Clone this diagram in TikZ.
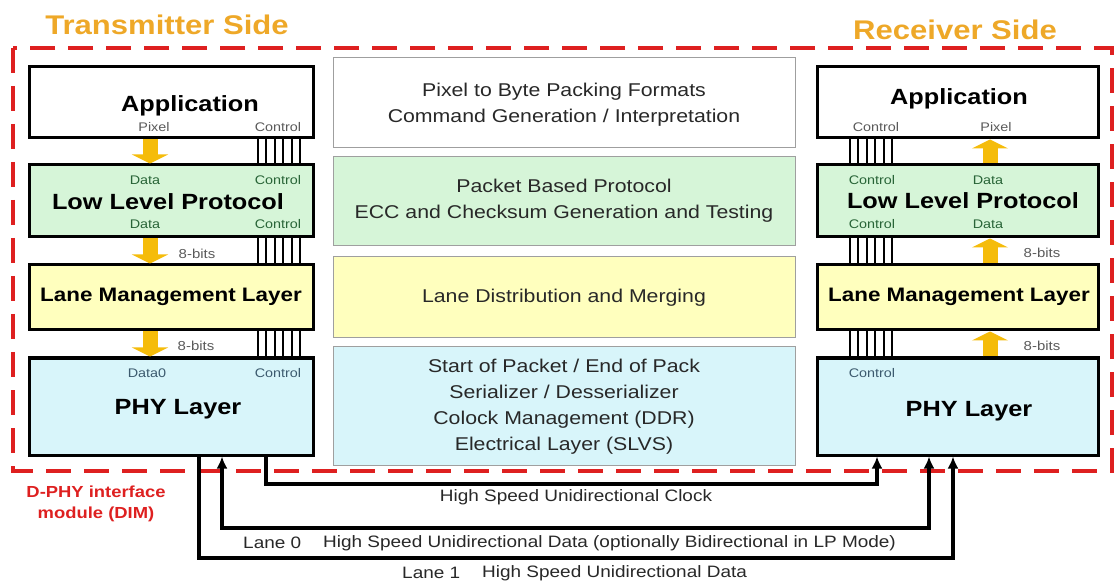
\documentclass[tikz,border=0pt]{standalone}
\usepackage{fontspec}
\setmainfont{Liberation Sans}[FakeStretch=1.15]
\usetikzlibrary{arrows.meta,calc}
\definecolor{ttlorange}{RGB}{238,168,40}
\definecolor{dimred}{RGB}{222,32,32}
\definecolor{llpgreen}{RGB}{214,245,216}
\definecolor{lmtyellow}{RGB}{255,255,190}
\definecolor{phycyan}{RGB}{216,245,250}
\definecolor{gold}{RGB}{245,188,10}
\definecolor{lblgray}{RGB}{90,90,90}
\definecolor{lblgreen}{RGB}{40,100,55}
\definecolor{lblblue}{RGB}{60,90,110}
\definecolor{txtdark}{RGB}{40,40,40}
\begin{document}
\begin{tikzpicture}[x=1pt,y=-1pt,
  sidebox/.style={draw=black, line width=3pt, inner sep=0pt},
  leftbox/.style={sidebox, minimum width=284pt},
  rightbox/.style={sidebox, minimum width=281pt},
  centerbox/.style={draw=gray!75, line width=1pt, minimum width=462pt, inner sep=0pt},
  centertext/.style={align=center, text=txtdark, inner sep=0pt, font=\fontsize{18.5}{26}\selectfont},
  boxtitle/.style={inner sep=0pt, font=\fontsize{22}{26}\selectfont\bfseries},
  sidetitle/.style={inner sep=0pt, text=ttlorange, font=\fontsize{27}{32}\selectfont\bfseries},
  lbl/.style={inner sep=0pt, font=\fontsize{12.5}{14}\selectfont},
  bits/.style={inner sep=0pt, text=lblgray, font=\fontsize{13}{15}\selectfont},
  yarrow/.style={draw=gold, line width=15pt, -{Triangle[width=36pt,length=9pt]}},
  bundle/.style={draw=black, line width=2pt},
  wire/.style={draw=black, line width=3.5pt},
  wirearrow/.style={-{Latex[length=12pt,width=11pt]}},
  bottomtext/.style={inner sep=0pt, text=txtdark, font=\fontsize{16.5}{20}\selectfont},
  reddash/.style={draw=dimred, line width=4pt, dash pattern=on 25pt off 13pt}
]
\useasboundingbox (0,0) rectangle (1114,585);

% titles
\node[sidetitle] (ttx) at (167,25) {Transmitter Side};
\node[sidetitle] (trx) at (955,30) {Receiver Side};

% DIM boundary
\draw[reddash] (13,48) rectangle (1112,471);
\node[inner sep=0pt, text=dimred, align=center, font=\fontsize{16}{21}\selectfont\bfseries] (dimlbl) at (96,504) {D-PHY interface\\module (DIM)};

% left column
\node[leftbox, fill=white, minimum height=71pt] (appL) at (171,102.5) {};
\node[leftbox, fill=llpgreen, minimum height=72pt] (llpL) at (171,201) {};
\node[leftbox, fill=lmtyellow, minimum height=65pt] (lmtL) at (171,297.5) {};
\node[leftbox, fill=phycyan, minimum height=97pt] (phyL) at (171,406.5) {};

% right column
\node[rightbox, fill=white, minimum height=71pt] (appR) at (957.5,102.5) {};
\node[rightbox, fill=llpgreen, minimum height=72pt] (llpR) at (957.5,201) {};
\node[rightbox, fill=lmtyellow, minimum height=65pt] (lmtR) at (957.5,297.5) {};
\node[rightbox, fill=phycyan, minimum height=97pt] (phyR) at (957.5,406.5) {};

% center column
\node[centerbox, fill=white, minimum height=90pt] (c1) at (564,103) {};
\node[centerbox, fill=llpgreen, minimum height=89pt] (c2) at (564,201.5) {};
\node[centerbox, fill=lmtyellow, minimum height=81pt] (c3) at (564,297.5) {};
\node[centerbox, fill=phycyan, minimum height=118pt] (c4) at (564,406) {};

\node[centertext] (c1t) at (564,105) {Pixel to Byte Packing Formats\\Command Generation / Interpretation};
\node[centertext] (c2t) at (564,201) {Packet Based Protocol\\ECC and Checksum Generation and Testing};
\node[centertext] (c3t) at (564,298) {Lane Distribution and Merging};
\node[centertext] (c4t) at (564,407) {Start of Packet / End of Pack\\Serializer / Desserializer\\Colock Management (DDR)\\Electrical Layer (SLVS)};

% box titles left
\node[boxtitle] (appLt) at (190,106) {Application};
\node[boxtitle] (llpLt) at (168,202) {Low Level Protocol};
\node[boxtitle, font=\fontsize{19.5}{24}\selectfont\bfseries] (lmtLt) at (171,297) {Lane Management Layer};
\node[boxtitle] (phyLt) at (178,409) {PHY Layer};
% box titles right
\node[boxtitle] (appRt) at (959,99) {Application};
\node[boxtitle] (llpRt) at (963,201) {Low Level Protocol};
\node[boxtitle, font=\fontsize{19.5}{24}\selectfont\bfseries] (lmtRt) at (959,297) {Lane Management Layer};
\node[boxtitle] (phyRt) at (969,411) {PHY Layer};

% small labels left
\node[lbl, text=lblgray] (lpix) at (154,127) {Pixel};
\node[lbl, text=lblgray] (lctl1) at (278,127) {Control};
\node[lbl, text=lblgreen] (ldat2) at (145,180) {Data};
\node[lbl, text=lblgreen] (lctl2) at (278,180) {Control};
\node[lbl, text=lblgreen] (ldat3) at (145,224) {Data};
\node[lbl, text=lblgreen] (lctl3) at (278,224) {Control};
\node[lbl, text=lblblue] (ldat4) at (147,373) {Data0};
\node[lbl, text=lblblue] (lctl4) at (278,373) {Control};
% small labels right
\node[lbl, text=lblgray] (rctl1) at (876,127) {Control};
\node[lbl, text=lblgray] (rpix) at (996,127) {Pixel};
\node[lbl, text=lblgreen] (rctl2) at (872,180) {Control};
\node[lbl, text=lblgreen] (rdat2) at (988,180) {Data};
\node[lbl, text=lblgreen] (rctl3) at (872,224) {Control};
\node[lbl, text=lblgreen] (rdat3) at (988,224) {Data};
\node[lbl, text=lblblue] (rctl4) at (872,373) {Control};

% 8-bits labels
\node[bits] (lb1) at (197,254) {8-bits};
\node[bits] (lb2) at (196,346) {8-bits};
\node[bits] (rb1) at (1042,253) {8-bits};
\node[bits] (rb2) at (1042,346) {8-bits};

% column coordinates
\coordinate (axL) at (150,0);
\coordinate (axR) at (990,0);
\coordinate (bxL) at (258,0);
\coordinate (bxR) at (850,0);

% yellow data arrows
\draw[yarrow] (appL.south -| axL) -- (llpL.north -| axL);
\draw[yarrow] (llpL.south -| axL) -- (lmtL.north -| axL);
\draw[yarrow] (lmtL.south -| axL) -- (phyL.north -| axL);
\draw[yarrow] (llpR.north -| axR) -- (appR.south -| axR);
\draw[yarrow] (lmtR.north -| axR) -- (llpR.south -| axR);
\draw[yarrow] (phyR.north -| axR) -- (lmtR.south -| axR);

% control bundles
\foreach \i in {0,...,5}{
  \draw[bundle] ($(appL.south -| bxL)+(8.4*\i,0)$) -- ($(llpL.north -| bxL)+(8.4*\i,0)$);
  \draw[bundle] ($(llpL.south -| bxL)+(8.4*\i,0)$) -- ($(lmtL.north -| bxL)+(8.4*\i,0)$);
  \draw[bundle] ($(lmtL.south -| bxL)+(8.4*\i,0)$) -- ($(phyL.north -| bxL)+(8.4*\i,0)$);
  \draw[bundle] ($(appR.south -| bxR)+(8.4*\i,0)$) -- ($(llpR.north -| bxR)+(8.4*\i,0)$);
  \draw[bundle] ($(llpR.south -| bxR)+(8.4*\i,0)$) -- ($(lmtR.north -| bxR)+(8.4*\i,0)$);
  \draw[bundle] ($(lmtR.south -| bxR)+(8.4*\i,0)$) -- ($(phyR.north -| bxR)+(8.4*\i,0)$);
}

% bottom lanes
\coordinate (ckL) at (266,484);
\coordinate (ckR) at (877,484);
\coordinate (l0L) at (222,528);
\coordinate (l0R) at (929,528);
\coordinate (l1L) at (199,558);
\coordinate (l1R) at (953,558);

\draw[wire, wirearrow] (phyL.south -| ckL) -- (ckL) -- (ckR) -- (phyR.south -| ckR);
\draw[wire, {Latex[length=12pt,width=11pt]}-{Latex[length=12pt,width=11pt]}] (phyL.south -| l0L) -- (l0L) -- (l0R) -- (phyR.south -| l0R);
\draw[wire, wirearrow] (phyL.south -| l1L) -- (l1L) -- (l1R) -- (phyR.south -| l1R);

\node[bottomtext] (ckt) at (576,497) {High Speed Unidirectional Clock};
\node[bottomtext, anchor=west] (l0n) at (243,543) {Lane 0};
\node[bottomtext, anchor=west] (l0t) at (323,543) {High Speed Unidirectional Data (optionally Bidirectional in LP Mode)};
\node[bottomtext, anchor=west] (l1n) at (402,573) {Lane 1};
\node[bottomtext, anchor=west] (l1t) at (482,573) {High Speed Unidirectional Data};
\end{tikzpicture}
\end{document}
